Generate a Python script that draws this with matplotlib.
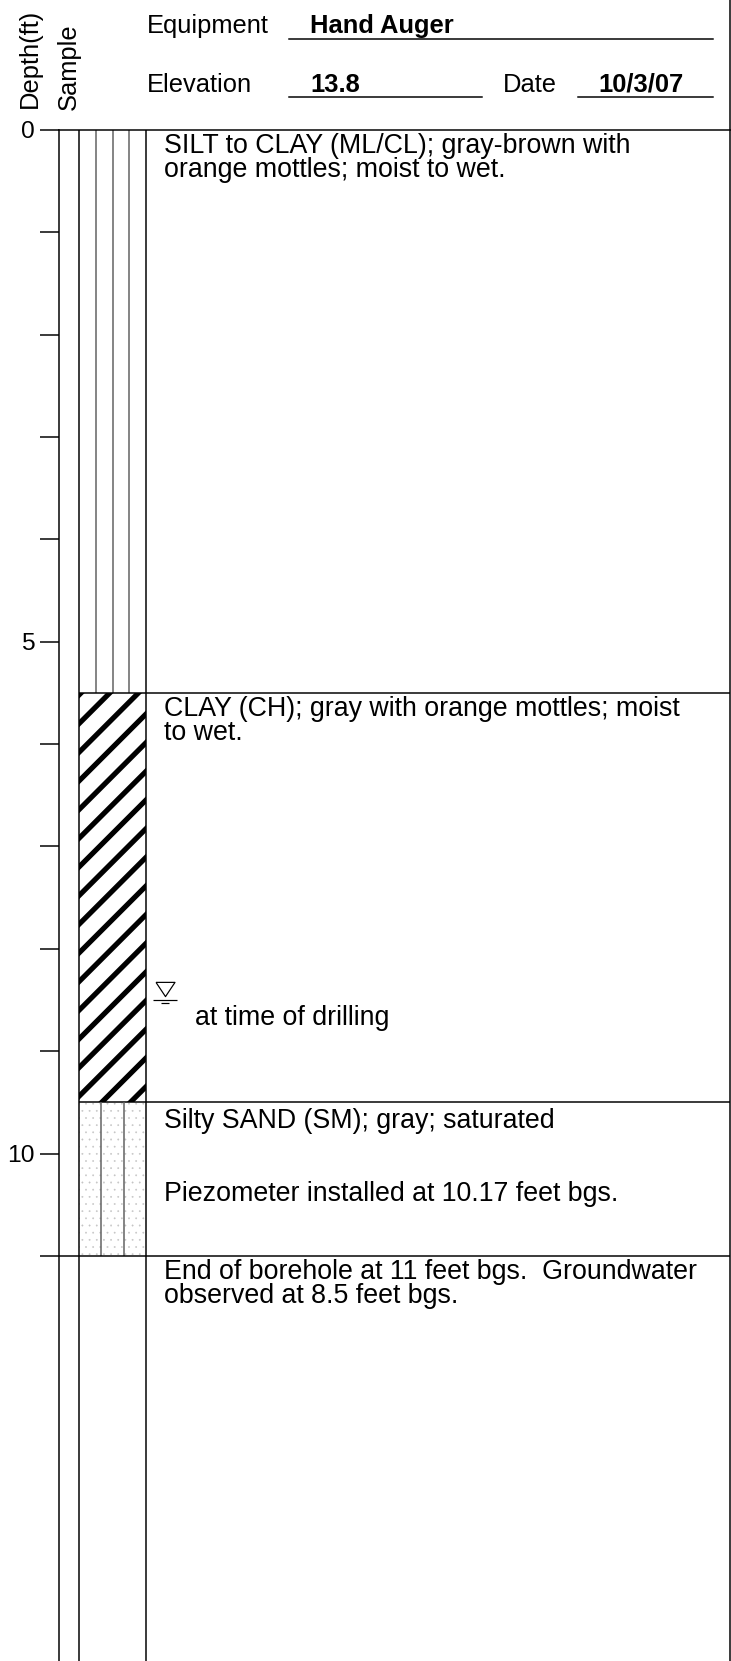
import matplotlib.pyplot as plt
from matplotlib.patches import Rectangle
from matplotlib.lines import Line2D

DPI = 86          # hatch tile is one inch, so dpi sets the stripe pitch
PT = 72 / DPI     # points per pixel

plt.rcParams['font.family'] = ['Liberation Sans', 'DejaVu Sans']
plt.rcParams['hatch.linewidth'] = 5.2 * PT

# header fields
header_labels = ['Equipment', 'Elevation', 'Date']
header_values = ['Hand Auger', '13.8', '10/3/07']

# boring log
depth_ticks = list(range(0, 12))
depth_labels = ['0', '', '', '', '', '5', '', '', '', '', '10', '']
layer_top = [0.0, 5.5, 9.5]
layer_bottom = [5.5, 9.5, 11.0]
layer_soil = ['silt', 'clay', 'sand']
layer_text = [
    ['SILT to CLAY (ML/CL); gray-brown with', 'orange mottles; moist to wet.'],
    ['CLAY (CH); gray with orange mottles; moist', 'to wet.'],
    ['Silty SAND (SM); gray; saturated'],
]
piezo_depth = 10.17
piezo_text = 'Piezometer installed at 10.17 feet bgs.'
end_depth = 11.0
end_text = ['End of borehole at 11 feet bgs.  Groundwater',
            'observed at 8.5 feet bgs.']
water_depth = 8.5
water_text = 'at time of drilling'

# layout (pixels)
W, H = 731, 1661
top_px = 130
px_per_ft = 102.35
max_depth = (H - top_px) / px_per_ft
x_depth, x_sample, x_graphic, x_right = 59, 79, 146, 730
x_text = 164
desc_px = 26.8
fs_head = 25.5 * PT
fs_desc = desc_px * PT
fs_tick = 24.5 * PT
first_base = 0.25   # ft from layer top to first baseline
line_ls = 0.91
line_step = line_ls * 0.88 * desc_px / px_per_ft   # ft between baselines
lw = 1.5 * PT
gray = '#606060'

fig = plt.figure(figsize=(W / DPI, H / DPI), dpi=DPI)

# ---- main log axes
ax = fig.add_axes([x_depth / W, 0, (W - x_depth) / W, (H - top_px) / H])
ax.set_xlim(x_depth, W)
ax.set_ylim(max_depth, 0)
ax.set_xticks([])
ax.set_yticks(depth_ticks, depth_labels)
ax.tick_params(axis='y', direction='out', length=19 * PT, width=lw, pad=5 * PT,
               labelsize=fs_tick)
ax.spines['bottom'].set_visible(False)
ax.spines['right'].set_visible(False)
ax.spines['left'].set_linewidth(lw)
ax.spines['top'].set_linewidth(lw)

ax.vlines([x_sample, x_graphic], 0, max_depth, colors='black', lw=lw)


def describe(depth, lines):
    # va='baseline' pins the last line, so step down to it
    y = depth + first_base + (len(lines) - 1) * line_step
    ax.text(x_text, y, '\n'.join(lines), fontsize=fs_desc,
            va='baseline', linespacing=line_ls)


for top, bot, soil, lines in zip(layer_top, layer_bottom, layer_soil, layer_text):
    if top > 0:
        ax.hlines(top, x_sample, x_right, colors='black', lw=lw)
    width = x_graphic - x_sample
    if soil == 'silt':
        xs = [x_sample + width * k / 4 for k in (1, 2, 3)]
        ax.vlines(xs, top, bot, colors=gray, lw=lw)
    elif soil == 'clay':
        p = Rectangle((x_sample, top), width, bot - top, facecolor='white',
                      edgecolor='black', hatch='/', lw=0)
        if hasattr(p, 'set_hatch_linewidth'):
            p.set_hatch_linewidth(5.2 * PT)
        ax.add_patch(p)
    elif soil == 'sand':
        p = Rectangle((x_sample, top), width, bot - top, facecolor='white',
                      edgecolor='#c4c4c4', hatch='..', lw=0)
        if hasattr(p, 'set_hatch_linewidth'):
            p.set_hatch_linewidth(0.3)
        ax.add_patch(p)
        xs = [x_sample + width * k / 3 for k in (1, 2)]
        ax.vlines(xs, top, bot, colors=gray, lw=lw)
    describe(top, lines)

ax.text(x_text, piezo_depth + 0.29, piezo_text, fontsize=fs_desc, va='baseline')

# end of borehole
ax.hlines(end_depth, x_depth, x_right, colors='black', lw=lw)
describe(end_depth, end_text)

# groundwater symbol
tri = [(-1, 0.75), (1, 0.75), (0, -0.75), (-1, 0.75)]
ax.plot([165], [water_depth - 0.11], marker=tri, markersize=19 * PT,
        mfc='none', mec='black', mew=1.2 * PT, ls='none')
ax.hlines(water_depth, 153, 177, colors='black', lw=1.2 * PT)
ax.hlines(water_depth + 0.03, 161, 169, colors='black', lw=1.2 * PT)
ax.text(195, water_depth + 0.24, water_text, fontsize=fs_desc, va='baseline')

# right border, full height
fig.add_artist(Line2D([x_right / W] * 2, [0, 1], color='black', lw=lw))

# ---- header axes
hx = fig.add_axes([0, (H - top_px) / H, 1, top_px / H])
hx.set_xlim(0, W)
hx.set_ylim(top_px, 0)
hx.axis('off')

hx.text(30, 108, 'Depth(ft)', rotation=90, ha='center', va='bottom',
        fontsize=fs_head)
hx.text(69, 110, 'Sample', rotation=90, ha='center', va='bottom',
        fontsize=fs_head)

label_x = [147, 147, 503]
value_x = [310, 310, 598]
text_y = [33, 92, 92]
rule_x = [(289, 713), (289, 482), (578, 713)]
rule_y = [39, 97, 97]
for lab, val, lx, vx, ty, (r0, r1), ry in zip(header_labels, header_values,
                                               label_x, value_x, text_y,
                                               rule_x, rule_y):
    hx.text(lx, ty, lab, fontsize=fs_head, va='baseline')
    hx.text(vx, ty, val, fontsize=fs_head, fontweight='bold', va='baseline')
    hx.plot([r0, r1], [ry, ry], color='black', lw=lw)

fig.savefig('out.png', dpi=DPI)
